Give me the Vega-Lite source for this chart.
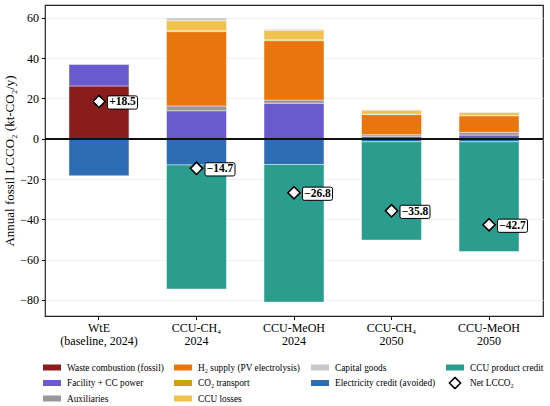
{
  "$schema": "https://vega.github.io/schema/vega-lite/v6.json",
  "width": 498,
  "height": 311,
  "autosize": "none",
  "padding": {"left": 45, "top": 5, "right": 7, "bottom": 90},
  "config": {
    "font": "Liberation Serif",
    "view": {"stroke": "#222222", "strokeWidth": 1.2},
    "axis": {"labelFont": "Liberation Serif", "titleFont": "Liberation Serif", "labelColor": "black", "titleColor": "black", "tickColor": "black", "domain": false}
  },
  "datasets": {
    "parts": [
      {"scenario": "WtE|(baseline, 2024)", "component": "Waste combustion (fossil)", "value": 26.2},
      {"scenario": "WtE|(baseline, 2024)", "component": "Facility + CC power", "value": 10.7},
      {"scenario": "WtE|(baseline, 2024)", "component": "Electricity credit (avoided)", "value": -18.4},
      {"scenario": "CCU-CH₄|2024", "component": "Facility + CC power", "value": 13.9},
      {"scenario": "CCU-CH₄|2024", "component": "Auxiliaries", "value": 2.4},
      {"scenario": "CCU-CH₄|2024", "component": "H₂ supply (PV electrolysis)", "value": 36.9},
      {"scenario": "CCU-CH₄|2024", "component": "CO₂ transport", "value": 0.4},
      {"scenario": "CCU-CH₄|2024", "component": "CCU losses", "value": 5.0},
      {"scenario": "CCU-CH₄|2024", "component": "Capital goods", "value": 1.3},
      {"scenario": "CCU-CH₄|2024", "component": "Electricity credit (avoided)", "value": -13.0},
      {"scenario": "CCU-CH₄|2024", "component": "CCU product credit", "value": -61.6},
      {"scenario": "CCU-MeOH|2024", "component": "Facility + CC power", "value": 17.6},
      {"scenario": "CCU-MeOH|2024", "component": "Auxiliaries", "value": 1.6},
      {"scenario": "CCU-MeOH|2024", "component": "H₂ supply (PV electrolysis)", "value": 29.5},
      {"scenario": "CCU-MeOH|2024", "component": "CO₂ transport", "value": 0.4},
      {"scenario": "CCU-MeOH|2024", "component": "CCU losses", "value": 4.8},
      {"scenario": "CCU-MeOH|2024", "component": "Capital goods", "value": 0.4},
      {"scenario": "CCU-MeOH|2024", "component": "Electricity credit (avoided)", "value": -12.8},
      {"scenario": "CCU-MeOH|2024", "component": "CCU product credit", "value": -68.3},
      {"scenario": "CCU-CH₄|2050", "component": "Facility + CC power", "value": 1.2},
      {"scenario": "CCU-CH₄|2050", "component": "Auxiliaries", "value": 0.8},
      {"scenario": "CCU-CH₄|2050", "component": "H₂ supply (PV electrolysis)", "value": 10.0},
      {"scenario": "CCU-CH₄|2050", "component": "CO₂ transport", "value": 0.2},
      {"scenario": "CCU-CH₄|2050", "component": "CCU losses", "value": 2.0},
      {"scenario": "CCU-CH₄|2050", "component": "Capital goods", "value": 0.3},
      {"scenario": "CCU-CH₄|2050", "component": "Electricity credit (avoided)", "value": -1.5},
      {"scenario": "CCU-CH₄|2050", "component": "CCU product credit", "value": -48.8},
      {"scenario": "CCU-MeOH|2050", "component": "Facility + CC power", "value": 1.8},
      {"scenario": "CCU-MeOH|2050", "component": "Auxiliaries", "value": 1.4},
      {"scenario": "CCU-MeOH|2050", "component": "H₂ supply (PV electrolysis)", "value": 8.2},
      {"scenario": "CCU-MeOH|2050", "component": "CO₂ transport", "value": 0.2},
      {"scenario": "CCU-MeOH|2050", "component": "CCU losses", "value": 1.5},
      {"scenario": "CCU-MeOH|2050", "component": "Capital goods", "value": 0.2},
      {"scenario": "CCU-MeOH|2050", "component": "Electricity credit (avoided)", "value": -1.5},
      {"scenario": "CCU-MeOH|2050", "component": "CCU product credit", "value": -54.5}
    ],
    "net": [
      {"scenario": "WtE|(baseline, 2024)", "net": 18.5},
      {"scenario": "CCU-CH₄|2024", "net": -14.7},
      {"scenario": "CCU-MeOH|2024", "net": -26.8},
      {"scenario": "CCU-CH₄|2050", "net": -35.8},
      {"scenario": "CCU-MeOH|2050", "net": -42.7}
    ]
  },
  "encoding": {
    "x": {
      "field": "scenario",
      "type": "nominal",
      "sort": null,
      "scale": {"paddingInner": 0.385, "paddingOuter": 0.246},
      "axis": {
        "title": null,
        "labelAngle": 0,
        "labelFontSize": 12,
        "labelExpr": "split(datum.label, '|')",
        "labelLineHeight": 12.5,
        "tickSize": 3.5,
        "labelPadding": 3,
        "grid": false
      }
    }
  },
  "layer": [
    {
      "data": {"name": "parts"},
      "transform": [
        {"calculate": "indexof(['Waste combustion (fossil)', 'Facility + CC power', 'Auxiliaries', 'H₂ supply (PV electrolysis)', 'CO₂ transport', 'CCU losses', 'Capital goods', 'Electricity credit (avoided)', 'CCU product credit'], datum.component)", "as": "stack_order"}
      ],
      "mark": {"type": "bar", "stroke": "white", "strokeWidth": 0.8, "strokeOpacity": 0.55},
      "encoding": {
        "y": {
          "field": "value",
          "type": "quantitative",
          "stack": "zero",
          "scale": {"domain": [-88, 66.4], "nice": false, "zero": false},
          "axis": {
            "title": "Annual fossil LCCO₂ (kt-CO₂/y)",
            "titleFontSize": 13,
            "titleFontWeight": "normal",
            "titlePadding": 3,
            "values": [-80, -60, -40, -20, 0, 20, 40, 60],
            "labelFontSize": 12,
            "tickSize": 3.5,
            "labelPadding": 3,
            "grid": true,
            "gridColor": "#eeeeee",
            "gridWidth": 0.8
          }
        },
        "color": {
          "field": "component",
          "type": "nominal",
          "scale": {
            "domain": ["Waste combustion (fossil)", "H₂ supply (PV electrolysis)", "Capital goods", "CCU product credit", "Facility + CC power", "CO₂ transport", "Electricity credit (avoided)", "Net LCCO₂", "Auxiliaries", "CCU losses"],
            "range": ["#8c1c1c", "#e8760c", "#c8c8c8", "#2a9d8f", "#6a5acd", "#c9a20f", "#2e6db4", "white", "#999999", "#f2c24f"]
          },
          "legend": {
            "title": null,
            "orient": "none",
            "legendX": -3,
            "legendY": 356,
            "direction": "horizontal",
            "columns": 4,
            "gridAlign": "each",
            "labelFont": "Liberation Serif",
            "labelFontSize": 9.3,
            "labelColor": "black",
            "labelOffset": 5,
            "labelLimit": 200,
            "symbolType": {"expr": "(datum.value === 'Net LCCO₂' || datum.index === 7) ? 'M-0.62,0L0,-0.62L0.62,0L0,0.62Z' : 'M-1,-0.33H1V0.33H-1Z'"},
            "symbolStrokeColor": {"expr": "(datum.value === 'Net LCCO₂' || datum.index === 7) ? 'black' : 'transparent'"},
            "symbolStrokeWidth": 1.5,
            "symbolSize": 324,
            "symbolOpacity": 1,
            "clipHeight": 13,
            "rowPadding": 2.5,
            "columnPadding": 9
          }
        },
        "order": {"field": "stack_order", "type": "quantitative"}
      }
    },
    {
      "data": {"name": "parts"},
      "mark": {"type": "rule", "color": "#111111", "strokeWidth": 1.2},
      "encoding": {"y": {"datum": 0, "type": "quantitative"}, "x": null}
    },
    {
      "data": {"name": "net"},
      "mark": {"type": "point", "shape": "diamond", "filled": true, "fill": "white", "stroke": "black", "strokeWidth": 1.6, "size": 150, "opacity": 1},
      "encoding": {
        "y": {"field": "net", "type": "quantitative"}
      }
    },
    {
      "data": {"name": "net"},
      "mark": {
        "type": "point",
        "shape": "M-0.88,-0.44H0.88Q1,-0.44 1,-0.32V0.32Q1,0.44 0.88,0.44H-0.88Q-1,0.44 -1,0.32V-0.32Q-1,-0.44 -0.88,-0.44Z",
        "filled": true,
        "fill": "white",
        "stroke": "black",
        "strokeWidth": 1,
        "size": 900,
        "opacity": 1,
        "xOffset": 23.5,
        "yOffset": 1
      },
      "encoding": {
        "y": {"field": "net", "type": "quantitative"}
      }
    },
    {
      "data": {"name": "net"},
      "mark": {"type": "text", "font": "Liberation Serif", "fontSize": 11.5, "fontWeight": "bold", "color": "black", "dx": 23.5, "dy": 1, "baseline": "middle", "align": "center"},
      "encoding": {
        "y": {"field": "net", "type": "quantitative"},
        "text": {"field": "net", "type": "quantitative", "format": "+.1f"}
      }
    }
  ]
}
